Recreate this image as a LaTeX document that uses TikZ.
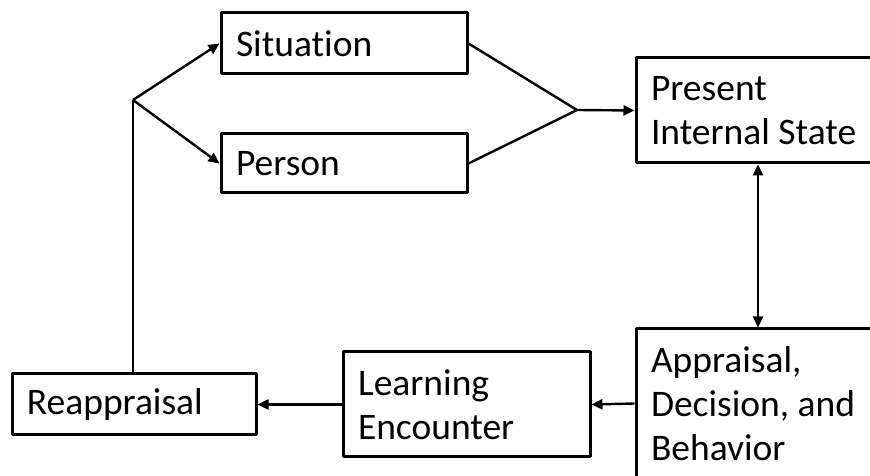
\documentclass[tikz,border=0pt]{standalone}
\usepackage{fontspec}
\setmainfont[Ligatures=NoCommon]{Carlito}
\usetikzlibrary{arrows.meta}
\begin{document}
\begin{tikzpicture}[x=1pt, y=1pt, >={Triangle[length=11pt,width=10pt]}, line join=round,
    box/.style={draw, line width=3pt, rectangle, align=left, inner xsep=15pt, inner ysep=0pt,
        font=\fontsize{37.5}{44}\selectfont, execute at begin node={\spaceskip=0.226em\relax}},
    link/.style={line width=2.4pt}]
\useasboundingbox (0,0) rectangle (870,476);
        \def\w{246pt} \def\tw{216pt}
\node[box, minimum width=\w, minimum height=61pt, text width=\tw] (sit) at (344,432.5) {Situation};
\node[box, minimum width=\w, minimum height=59pt, text width=\tw] (per) at (344,312.5) {Person};
\node[box, minimum width=244pt, minimum height=105pt, text width=214pt] (pres) at (758,365.5) {Present\\Internal State};
\node[box, minimum width=244pt, minimum height=149pt, text width=214pt] (app) at (758,72.5) {Appraisal,\\Decision, and\\Behavior};
\node[box, minimum width=247pt, minimum height=105pt, text width=217pt] (learn) at (466.5,71.5) {Learning\\Encounter};
\node[box, minimum width=244pt, minimum height=61pt, text width=214pt] (reap) at (134,71.5) {Reappraisal};
\coordinate (J) at (133,376);
\coordinate (K) at (577,366);
        \draw[link] (reap.north -| J) -- (J);
        \draw[link,->] (J) -- (sit.west);
        \draw[link,->] (J) -- (per.west);
        \draw[link] (sit.east) -- (K) -- (per.east);
        \draw[link,->] (K) -- (pres.west);
        \draw[link,<->] (pres.south) -- (app.north);
        \draw[link,->] (app.west) -- (learn.east);
        \draw[link,->] (learn.west) -- (reap.east);
    \end{tikzpicture}
\end{document}
